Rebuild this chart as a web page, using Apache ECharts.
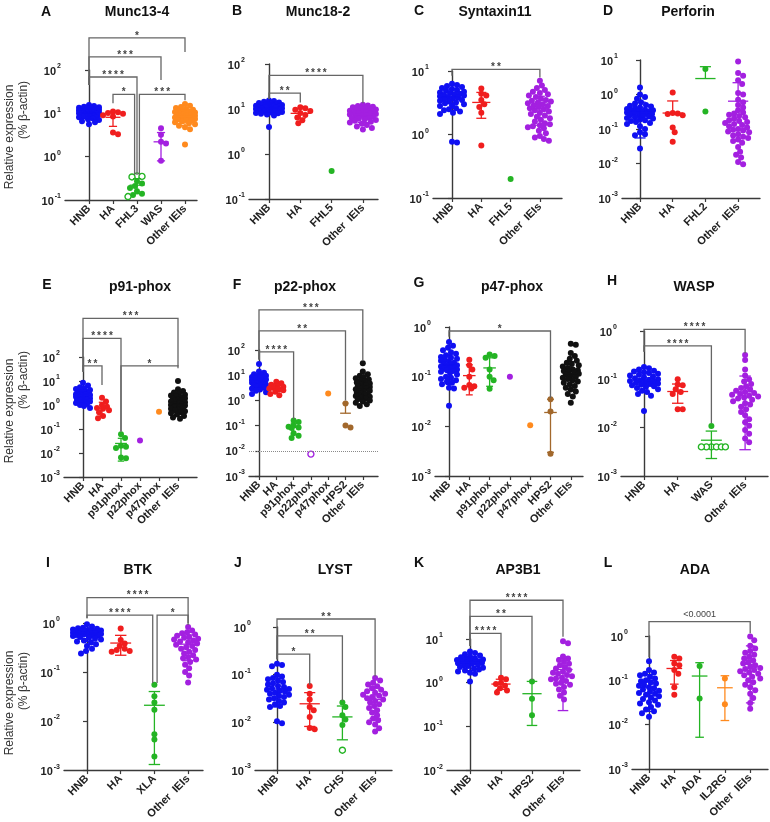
<!DOCTYPE html>
<html><head><meta charset="utf-8">
<script src="https://cdn.jsdelivr.net/npm/echarts@6/dist/echarts.min.js"></script>
<style>html,body{margin:0;padding:0;background:#fff}#c{width:770px;height:822px}</style>
</head><body><div id="c"></div><script>
// ---------------- DATA ----------------
const A_cats = ['HNB','HA','FHL3','WAS','Other IEIs'];
const A_HNB = [15.5,14.8,14.2,13.9,13.5,13.1,12.8,12.6,12.3,12.1,11.9,11.7,11.5,11.3,11.1,10.9,10.8,10.6,10.4,10.3,10.1,10.0,9.8,9.7,9.5,9.4,9.2,9.0,8.9,8.7,8.5,8.3,8.1,7.9,7.6,7.3,7.0,6.6,6.2,5.6];
const A_HA = [11,10.6,10.2,9.8,9.0,8.4,3.6,3.3];
const A_FHL3 = [0.27,0.24,0.21,0.19,0.16,0.14,0.13];
const A_FHL3_open = [0.36,0.35,0.34,0.12];
const A_WAS = [4.5,3.2,2.2,2.0,0.8];
const A_Other = [16.5,15,14,13.2,12.6,12.1,11.7,11.3,11,10.7,10.4,10.1,9.9,9.6,9.4,9.2,9.0,8.8,8.6,8.4,8.2,8.0,7.8,7.6,7.4,7.2,7.0,6.8,6.5,6.2,5.9,5.6,5.2,4.8,4.3,1.9];
const A_err = [[10.3,7.5,13.5],[8.1,5.0,11.0],[0.22,0.14,0.31],[2.2,0.8,3.6],[8.5,5.2,12]];
const A_br = [[0,4,550,45,260,'*'],[0,3,200,45,59,'***'],[0,2,69,45,0.38,'****'],[1,1.9,27.5,17,0.38,'*'],[2.1,4,27.5,0.38,20,'***']];

const B_cats = ['HNB','HA','FHL5','Other  IEIs'];
const B_HNB = [15.5,15,14.5,14,13.6,13.2,12.9,12.6,12.3,12.0,11.8,11.6,11.4,11.2,11.0,10.8,10.6,10.4,10.2,10.0,9.8,9.6,9.4,9.2,9.0,8.8,8.6,8.4,8.2,8.0,7.8,7.5,7.2,4.0];
const B_HA = [11,10.4,9.6,9.0,8.2,7.4,6.5,5.6,4.8];
const B_FHL5 = [0.42];
const B_Other = [12.5,12,11.6,11.2,10.9,10.6,10.3,10,9.7,9.5,9.2,9.0,8.7,8.5,8.3,8.1,7.9,7.7,7.5,7.3,7.1,6.9,6.7,6.5,6.3,6.1,5.9,5.7,5.5,5.2,5.0,4.7,4.4,4.1,3.8,3.5];
const B_err = [[10.5,8,13.5],[8.0,6.2,10.2],null,[7.5,5,10]];
const B_br = [[0,3,56,16.6,13.5,'****'],[0,1,22.5,16.6,14,'**']];

const C_cats = ['HNB','HA','FHL5','Other  IEIs'];
const C_HNB = [6.3,6.0,5.8,5.6,5.4,5.2,5.0,4.9,4.7,4.6,4.5,4.4,4.3,4.2,4.1,4.0,3.9,3.8,3.7,3.6,3.5,3.4,3.3,3.2,3.1,3.0,2.9,2.8,2.6,2.5,2.4,2.3,2.2,2.1,0.77,0.75];
const C_HA = [5.3,4.4,4.1,3.5,3.0,2.7,2.2,0.67];
const C_FHL5 = [0.2];
const C_Other = [7.0,5.9,5.4,5.0,4.7,4.5,4.3,4.1,3.9,3.7,3.5,3.4,3.3,3.2,3.1,3.0,2.9,2.8,2.7,2.6,2.5,2.4,2.3,2.2,2.1,2.0,1.9,1.8,1.7,1.6,1.5,1.45,1.4,1.35,1.3,1.25,1.15,1.05,0.95,0.9,0.85,0.8];
const C_err = [[3.9,2.6,5.2],[3.2,1.8,4.6],null,[2.6,1.4,4]];
const C_br = [[0,3,10.6,8.4,7.9,'**']];

const D_cats = ['HNB','HA','FHL2','Other  IEIs'];
const D_HNB = [1.6,1.0,0.85,0.75,0.6,0.55,0.5,0.47,0.45,0.42,0.4,0.38,0.36,0.35,0.34,0.33,0.32,0.31,0.3,0.29,0.28,0.27,0.26,0.25,0.24,0.23,0.22,0.21,0.2,0.19,0.18,0.17,0.16,0.15,0.14,0.12,0.1,0.08,0.07,0.066,0.027];
const D_HA = [1.15,0.29,0.28,0.27,0.25,0.11,0.08,0.043];
const D_FHL2 = [5.5,0.32];
const D_Other = [9,4.2,3.5,2.6,2.0,1.1,1.0,0.7,0.6,0.5,0.42,0.35,0.3,0.28,0.26,0.24,0.22,0.2,0.18,0.17,0.16,0.15,0.14,0.13,0.12,0.11,0.1,0.095,0.09,0.085,0.08,0.07,0.065,0.06,0.055,0.05,0.045,0.04,0.03,0.022,0.018,0.015,0.011,0.0095];
const D_err = [[0.3,0.055,0.6],[0.29,null,0.65],[2.9,null,6.4],[0.64,null,2.2]];
const D_br = [];

const E_cats = ['HNB','HA','p91phox','p22phox','p47phox','Other  IEIs'];
const E_HNB = [8.5,6.5,5.5,5.0,4.6,4.2,3.9,3.6,3.4,3.2,3.0,2.9,2.8,2.7,2.6,2.5,2.4,2.3,2.2,2.1,2.0,1.9,1.8,1.7,1.6,1.5,1.4,1.3,1.2,1.1,1.0,0.9,0.75];
const E_HA = [2.0,1.4,1.0,0.85,0.75,0.7,0.6,0.5,0.35,0.28];
const E_p91 = [0.06,0.042,0.02,0.018,0.016,0.0065,0.006];
const E_p22 = [0.033];
const E_p47 = [0.52];
const E_Other = [10,4.5,3.8,3.3,3.0,2.7,2.5,2.3,2.1,1.9,1.8,1.7,1.6,1.5,1.4,1.3,1.2,1.1,1.05,1.0,0.95,0.9,0.85,0.8,0.75,0.7,0.65,0.6,0.55,0.5,0.45,0.4,0.35,0.3,0.27];
const E_err = [[2.5,1.2,4],[0.75,0.35,1.3],[0.025,0.0046,0.041],null,null,[1.1,0.4,1.8]];
const E_br = [[0,5,4100,24.5,40,'***'],[0,2,600,24.5,0.078,'****'],[0,1,43,24.5,6.8,'**'],[2,5,43,0.078,34,'*']];

const F_cats = ['HNB','HA','p91phox','p22phox','p47phox','HPS2','Other  IEIs'];
const F_HNB = [28,14,12.5,11,10,9.5,9,8.5,8,7.6,7.2,6.8,6.5,6.2,6.0,5.8,5.5,5.2,5.0,4.8,4.5,4.2,4.0,3.8,3.5,3.2,3.0,2.7,2.4,2.1,1.8];
const F_HA = [5.5,4.8,4.2,3.8,3.5,3.2,3.0,2.8,2.5,2.2,1.8,1.6];
const F_p91 = [0.16,0.14,0.1,0.09,0.085,0.08,0.05,0.04,0.032];
const F_p22_open = [0.0074];
const F_p47 = [1.9];
const F_HPS2 = [0.75,0.1,0.085];
const F_Other = [30,14,11,9.5,8.5,7.5,6.8,6.2,5.6,5.1,4.7,4.3,4.0,3.7,3.4,3.2,3.0,2.8,2.6,2.4,2.2,2.0,1.9,1.8,1.7,1.6,1.5,1.4,1.3,1.2,1.1,1.0,0.9,0.8,0.7,0.6];
const F_err = [[6.5,3,11],[3.2,2.2,4.3],[0.085,0.045,0.125],null,null,[0.31,null,0.78],[3.2,1.0,6]];
const F_br = [[0,6,3900,42,38,'***'],[0,5,570,42,0.98,'**'],[0,2,85,42,0.18,'****']];
const F_ref = 0.0074;

const G_cats = ['HNB','HA','p91phox','p22phox','p47phox','HPS2','Other  IEIs'];
const G_HNB = [0.5,0.42,0.38,0.34,0.31,0.29,0.27,0.25,0.24,0.23,0.22,0.21,0.2,0.19,0.18,0.175,0.17,0.165,0.16,0.155,0.15,0.145,0.14,0.135,0.13,0.125,0.12,0.11,0.1,0.095,0.09,0.085,0.08,0.075,0.07,0.06,0.058,0.026];
const G_HA = [0.22,0.17,0.14,0.1,0.068,0.064,0.06,0.058];
const G_p91 = [0.28,0.26,0.24,0.14,0.1,0.085,0.057];
const G_p22 = [0.1];
const G_p47 = [0.0105];
const G_HPS2 = [0.035,0.02,0.0028];
const G_Other = [0.46,0.44,0.3,0.26,0.23,0.21,0.19,0.18,0.17,0.16,0.15,0.14,0.135,0.13,0.125,0.12,0.115,0.11,0.105,0.1,0.095,0.09,0.085,0.08,0.075,0.07,0.065,0.06,0.055,0.05,0.045,0.04,0.03];
const G_err = [[0.17,0.07,0.28],[0.105,0.043,0.174],[0.15,0.064,0.24],null,null,[0.019,0.003,0.035],[0.115,0.055,0.2]];
const G_br = [[0,5,0.83,0.64,0.037,'*']];

const H_cats = ['HNB','HA','WAS','Other  IEIs'];
const H_HNB = [0.18,0.17,0.16,0.15,0.145,0.14,0.135,0.13,0.125,0.12,0.115,0.11,0.105,0.1,0.098,0.095,0.092,0.09,0.087,0.085,0.082,0.08,0.077,0.075,0.072,0.07,0.066,0.062,0.058,0.055,0.05,0.046,0.022];
const H_HA = [0.1,0.078,0.075,0.062,0.055,0.05,0.024,0.024];
const H_WAS = [0.0108];
const H_WAS_open = [0.004,0.004,0.004,0.004,0.004,0.004];
const H_Other = [0.32,0.25,0.16,0.12,0.1,0.09,0.08,0.072,0.066,0.062,0.058,0.055,0.052,0.05,0.048,0.046,0.044,0.042,0.04,0.038,0.035,0.032,0.03,0.027,0.024,0.021,0.018,0.015,0.013,0.011,0.009,0.0075,0.006,0.005];
const H_err = [[0.095,0.055,0.14],[0.056,0.032,0.08],[0.0055,0.0023,0.0085],[0.055,0.0035,0.117]];
const H_br = [[0,3,1.08,0.37,0.345,'****'],[0,2,0.49,0.37,0.0123,'****']];
const H_ref = 0.004;

const I_cats = ['HNB','HA','XLA','Other  IEIs'];
const I_HNB = [0.94,0.85,0.8,0.78,0.76,0.74,0.72,0.7,0.69,0.68,0.67,0.66,0.65,0.64,0.63,0.62,0.61,0.6,0.59,0.58,0.57,0.56,0.55,0.54,0.52,0.5,0.48,0.46,0.44,0.42,0.4,0.37,0.34,0.3,0.27,0.24];
const I_HA = [0.77,0.45,0.38,0.34,0.3,0.28,0.27,0.26];
const I_XLA = [0.055,0.032,0.024,0.017,0.0054,0.0042,0.0019];
const I_Other = [0.83,0.7,0.65,0.62,0.58,0.55,0.52,0.5,0.48,0.46,0.44,0.42,0.4,0.38,0.36,0.34,0.32,0.3,0.28,0.26,0.24,0.22,0.2,0.19,0.18,0.16,0.14,0.12,0.1,0.085,0.061];
const I_err = [[0.6,0.42,0.78],[0.39,0.22,0.56],[0.021,0.0013,0.04],[0.37,0.17,0.57]];
const I_br = [[0,3,3.3,1.25,1.0,'****'],[0,1.95,1.45,1.25,0.06,'****'],[2.08,3,1.45,0.06,0.91,'*']];

const J_cats = ['HNB','HA','CHS','Other  IEIs'];
const J_HNB = [0.17,0.16,0.15,0.1,0.092,0.085,0.08,0.075,0.07,0.066,0.062,0.058,0.055,0.052,0.05,0.048,0.046,0.044,0.042,0.04,0.038,0.036,0.034,0.032,0.03,0.028,0.026,0.024,0.022,0.021,0.0105,0.0096];
const J_HA = [0.058,0.04,0.03,0.021,0.018,0.013,0.0076,0.0072];
const J_CHS = [0.026,0.021,0.014,0.0115,0.0088];
const J_CHS_open = [0.0026];
const J_Other = [0.085,0.075,0.068,0.062,0.057,0.052,0.048,0.045,0.042,0.04,0.038,0.036,0.034,0.032,0.03,0.028,0.026,0.024,0.022,0.02,0.018,0.016,0.014,0.012,0.011,0.01,0.009,0.0075,0.0064];
const J_err = [[0.05,0.021,0.09],[0.0245,0.0082,0.042],[0.013,0.0043,0.022],[0.03,0.012,0.055]];
const J_br = [[0,3,1.47,0.21,0.091,'**'],[0,2,0.65,0.21,0.0285,'**'],[0,1,0.27,0.21,0.061,'*']];

const K_cats = ['HNB','HA','HPS2','Other  IEIs'];
const K_HNB = [5.2,4.8,4.5,4.2,4.0,3.8,3.6,3.5,3.4,3.3,3.2,3.1,3.0,2.95,2.9,2.85,2.8,2.7,2.6,2.5,2.4,2.3,2.2,2.1,2.0,1.9,1.8,1.7,1.6,1.07];
const K_HA = [1.3,1.2,1.0,0.93,0.85,0.75,0.66,0.6];
const K_HPS2 = [1.07,0.43,0.18];
const K_Other = [8.9,8.0,4.0,3.6,3.3,3.0,2.7,2.5,2.3,2.1,1.95,1.8,1.7,1.6,1.5,1.4,1.3,1.25,1.2,1.1,1.0,0.95,0.9,0.8,0.7,0.6,0.5,0.41];
const K_err = [[2.9,1.9,3.9],[0.93,0.7,1.2],[0.56,0.105,1.07],[2.0,0.23,3.7]];
const K_br = [[0,3,77,6.9,11.3,'****'],[0,2,33,6.9,1.17,'**'],[0,1,13.5,6.9,1.5,'****']];

const L_cats = ['HNB','HA','ADA','IL2RG','Other  IEIs'];
const L_HNB = [0.27,0.17,0.15,0.14,0.13,0.12,0.11,0.1,0.095,0.09,0.085,0.08,0.075,0.07,0.066,0.062,0.058,0.055,0.052,0.05,0.047,0.044,0.041,0.038,0.035,0.032,0.03,0.028,0.025,0.022,0.02,0.018,0.015];
const L_HA = [0.34,0.31,0.24,0.22,0.17,0.14,0.07,0.047];
const L_ADA = [0.21,0.039];
const L_IL2RG = [0.11,0.029];
const L_Other = [0.97,0.8,0.6,0.52,0.46,0.42,0.38,0.34,0.31,0.28,0.26,0.24,0.22,0.2,0.19,0.18,0.17,0.16,0.15,0.14,0.13,0.12,0.11,0.1,0.09,0.08,0.07,0.06,0.05,0.04,0.031,0.023];
const L_err = [[0.07,0.02,0.135],[0.185,0.082,0.28],[0.125,0.0052,0.25],[0.068,0.0124,0.127],[0.23,0.031,0.6]];
const L_br = [[0,4,2.1,0.33,1.15,'<0.0001']];

// ---------------- STYLE / LAYOUT ----------------
const FONT = '"Liberation Sans", Arial, sans-serif';
const BLUE='#1010f2', RED='#f01e1e', GREEN='#24b424', PURPLE='#a320e0', ORANGE='#ff8a1e', BLACK='#111111', BROWN='#a2682c';

const panels = [
 {L:'A', title:'Munc13-4', cats:A_cats, groups:[A_HNB,A_HA,A_FHL3,A_WAS,A_Other], open:{2:A_FHL3_open}, colors:[BLUE,RED,GREEN,PURPLE,ORANGE], err:A_err, br:A_br, yMin:0.1, yMax:100,
  box:{x0:65,x1:197,top:70,bot:200,c0:89,step:24}, lp:[46,12], tp:[137,12]},
 {L:'B', title:'Munc18-2', cats:B_cats, groups:[B_HNB,B_HA,B_FHL5,B_Other], open:{}, colors:[BLUE,RED,GREEN,PURPLE], err:B_err, br:B_br, yMin:0.1, yMax:100,
  box:{x0:249,x1:378,top:64,bot:199,c0:269,step:31.3}, lp:[237,11], tp:[318,12]},
 {L:'C', title:'Syntaxin11', cats:C_cats, groups:[C_HNB,C_HA,C_FHL5,C_Other], open:{}, colors:[BLUE,RED,GREEN,PURPLE], err:C_err, br:C_br, yMin:0.1, yMax:10,
  box:{x0:433,x1:562,top:71,bot:198,c0:452,step:29.3}, lp:[419,11], tp:[495,12]},
 {L:'D', title:'Perforin', cats:D_cats, groups:[D_HNB,D_HA,D_FHL2,D_Other], open:{}, colors:[BLUE,RED,GREEN,PURPLE], err:D_err, br:D_br, yMin:0.001, yMax:10,
  box:{x0:622,x1:760,top:60,bot:198,c0:640,step:32.7}, lp:[608,11], tp:[688,12]},
 {L:'E', title:'p91-phox', cats:E_cats, groups:[E_HNB,E_HA,E_p91,E_p22,E_p47,E_Other], open:{}, colors:[BLUE,RED,GREEN,PURPLE,ORANGE,BLACK], err:E_err, br:E_br, yMin:0.001, yMax:100,
  box:{x0:64,x1:197,top:357,bot:477,c0:83,step:19}, lp:[47,285], tp:[140,287]},
 {L:'F', title:'p22-phox', cats:F_cats, groups:[F_HNB,F_HA,F_p91,[],F_p47,F_HPS2,F_Other], open:{3:F_p22_open}, colors:[BLUE,RED,GREEN,PURPLE,ORANGE,BROWN,BLACK], err:F_err, br:F_br, yMin:0.001, yMax:100, ref:F_ref,
  box:{x0:249,x1:378,top:350,bot:476,c0:259,step:17.3}, lp:[237,285], tp:[305,287]},
 {L:'G', title:'p47-phox', cats:G_cats, groups:[G_HNB,G_HA,G_p91,G_p22,G_p47,G_HPS2,G_Other], open:{}, colors:[BLUE,RED,GREEN,PURPLE,ORANGE,BROWN,BLACK], err:G_err, br:G_br, yMin:0.001, yMax:1,
  box:{x0:435,x1:583,top:327,bot:476,c0:449,step:20.3}, lp:[419,283], tp:[512,287]},
 {L:'H', title:'WASP', cats:H_cats, groups:[H_HNB,H_HA,H_WAS,H_Other], open:{2:H_WAS_open}, colors:[BLUE,RED,GREEN,PURPLE], err:H_err, br:H_br, yMin:0.001, yMax:1, ref:H_ref,
  box:{x0:621,x1:768,top:331,bot:476,c0:644,step:33.7}, lp:[612,281], tp:[694,287]},
 {L:'I', title:'BTK', cats:I_cats, groups:[I_HNB,I_HA,I_XLA,I_Other], open:{}, colors:[BLUE,RED,GREEN,PURPLE], err:I_err, br:I_br, yMin:0.001, yMax:1,
  box:{x0:64,x1:203,top:623,bot:771,c0:87,step:33.7}, lp:[48,563], tp:[138,570]},
 {L:'J', title:'LYST', cats:J_cats, groups:[J_HNB,J_HA,J_CHS,J_Other], open:{2:J_CHS_open}, colors:[BLUE,RED,GREEN,PURPLE], err:J_err, br:J_br, yMin:0.001, yMax:1,
  box:{x0:255,x1:392,top:627,bot:770,c0:277,step:32.7}, lp:[238,563], tp:[335,570]},
 {L:'K', title:'AP3B1', cats:K_cats, groups:[K_HNB,K_HA,K_HPS2,K_Other], open:{}, colors:[BLUE,RED,GREEN,PURPLE], err:K_err, br:K_br, yMin:0.01, yMax:10,
  box:{x0:447,x1:580,top:639,bot:771,c0:470,step:31}, lp:[419,563], tp:[518,570]},
 {L:'L', title:'ADA', cats:L_cats, groups:[L_HNB,L_HA,L_ADA,L_IL2RG,L_Other], open:{}, colors:[BLUE,RED,GREEN,ORANGE,PURPLE], err:L_err, br:L_br, yMin:0.001, yMax:1,
  box:{x0:632,x1:768,top:636,bot:769,c0:649,step:25.3}, lp:[608,563], tp:[695,570]}
];

// beeswarm layout (pixel offsets) computed from values
function swarmOffsets(vals, pxDec, maxOff){
  const D = 5;
  const order = vals.map((v,i)=>i).sort((a,b)=>vals[b]-vals[a]);
  const pts = []; const off = new Array(vals.length).fill(0);
  const lim = Math.max(0, Math.floor(maxOff));
  order.forEach(i=>{
    const y = -Math.log10(vals[i])*pxDec;
    let chosen = null, best = 0, bestD = -1;
    for (let k=0; k<=2*lim; k++){
      const o = k===0 ? 0 : (k%2 ? (k+1)/2 : -k/2);
      let md = Infinity;
      for (const q of pts){ const dx=q[0]-o, dy=q[1]-y; const d=Math.sqrt(dx*dx+dy*dy); if(d<md) md=d; }
      if (md >= D){ chosen = o; break; }
      if (md > bestD){ bestD = md; best = o; }
    }
    if (chosen===null) chosen = best;
    off[i] = chosen; pts.push([chosen, y]);
  });
  return off;
}

const option = {animation:false, backgroundColor:'#fff', grid:[], xAxis:[], yAxis:[], series:[], graphic:[]};
const AX = '#3a3a3a';

panels.forEach((p, pi)=>{
  const b = p.box;
  const idxs = p.cats.map((c,i)=>i);
  const xmin = -(b.c0-b.x0)/b.step, xmax = (b.x1-b.c0)/b.step;
  const e0 = Math.round(Math.log10(p.yMin)), e1 = Math.round(Math.log10(p.yMax));
  const decs = []; for (let e=e0; e<=e1; e++) decs.push(Math.pow(10,e));
  const pxDec = (b.bot-b.top)/(e1-e0);
  option.grid.push({left:b.x0, top:b.top, width:b.x1-b.x0, height:b.bot-b.top});
  option.xAxis.push({type:'value', gridIndex:pi, min:xmin, max:xmax, splitLine:{show:false},
    axisLine:{lineStyle:{color:AX, width:1.4}},
    axisTick:{customValues:idxs, length:4, lineStyle:{color:AX, width:1.2}},
    axisLabel:{customValues:idxs, rotate:45, margin:7, fontSize:11, fontWeight:'bold', fontFamily:FONT, color:'#222',
      formatter:(v)=>p.cats[Math.round(v)] || ''}});
  option.yAxis.push({type:'log', logBase:10, gridIndex:pi, min:p.yMin, max:p.yMax, splitLine:{show:false},
    minorTick:{show:false},
    axisLine:{show:true, lineStyle:{color:AX, width:1.4}},
    axisTick:{show:true, customValues:decs, length:4, lineStyle:{color:AX, width:1.2}},
    axisLabel:{customValues:decs, margin:4, formatter:(v)=>{ const e=Math.round(Math.log10(v)); return '{b|10}{s|'+(e<0?'-'+(-e):String(e))+'}'; },
      rich:{b:{fontSize:11, fontWeight:'bold', fontFamily:FONT, color:'#222', verticalAlign:'bottom', lineHeight:14},
            s:{fontSize:7, fontWeight:'bold', fontFamily:FONT, color:'#222', verticalAlign:'top', lineHeight:8, padding:[0,0,0,1]}}}});

  // scatter dots
  p.groups.forEach((vals, gi)=>{
    const openVals = p.open[gi] || [];
    const all = vals.concat(openVals);
    if (!all.length) return;
    const offs = swarmOffsets(all, pxDec, 0.42*b.step);
    const filled = vals.map((v,k)=>[gi + offs[k]/b.step, v]);
    const hol = openVals.map((v,k)=>[gi + offs[vals.length+k]/b.step, v]);
    if (filled.length) option.series.push({type:'scatter', xAxisIndex:pi, yAxisIndex:pi, data:filled, symbolSize:6, silent:true, z:2,
      itemStyle:{color:p.colors[gi], opacity:1}});
    if (hol.length) option.series.push({type:'scatter', xAxisIndex:pi, yAxisIndex:pi, data:hol, symbolSize:6, silent:true, z:2,
      itemStyle:{color:'#fff', borderColor:p.colors[gi], borderWidth:1.4, opacity:1}});
  });

  // reference dotted line
  if (p.ref){
    option.series.push({type:'scatter', xAxisIndex:pi, yAxisIndex:pi, data:[], silent:true,
      markLine:{silent:true, symbol:'none', label:{show:false}, lineStyle:{type:'dotted', color:'#8a8a8a', width:1}, data:[{yAxis:p.ref}]}});
  }

  // error bars (mean + SD)
  const errItems = [];
  p.err.forEach((e,gi)=>{ if (e) errItems.push({gi, m:e[0], lo:e[1], hi:e[2]}); });
  option.series.push({type:'custom', xAxisIndex:pi, yAxisIndex:pi, clip:false, silent:true, z:3,
    data: errItems.map(e=>[e.gi, e.m]),
    renderItem:(params, api)=>{
      const e = errItems[params.dataIndex];
      const col = p.colors[e.gi];
      const pm = api.coord([e.gi, e.m]);
      const unit = api.coord([e.gi+1, e.m])[0]-pm[0];
      const ph = api.coord([e.gi, e.hi]);
      const pl = e.lo ? api.coord([e.gi, e.lo]) : pm;
      const st = {stroke:col, lineWidth:1.3};
      const mw = 0.31*unit, cw = 0.17*unit;
      const ch = [
        {type:'line', shape:{x1:pm[0]-mw, y1:pm[1], x2:pm[0]+mw, y2:pm[1]}, style:st},
        {type:'line', shape:{x1:pm[0], y1:ph[1], x2:pm[0], y2:pl[1]}, style:st},
        {type:'line', shape:{x1:pm[0]-cw, y1:ph[1], x2:pm[0]+cw, y2:ph[1]}, style:st}
      ];
      if (e.lo) ch.push({type:'line', shape:{x1:pm[0]-cw, y1:pl[1], x2:pm[0]+cw, y2:pl[1]}, style:st});
      return {type:'group', children:ch};
    }});

  // significance brackets
  if (p.br.length){
    option.series.push({type:'custom', xAxisIndex:pi, yAxisIndex:pi, clip:false, silent:true, z:4,
      data: p.br.map(r=>[r[0], r[2]]),
      renderItem:(params, api)=>{
        const r = p.br[params.dataIndex];
        const a = api.coord([r[0], r[2]]), c = api.coord([r[1], r[2]]);
        const dl = api.coord([r[0], r[3]]), dr = api.coord([r[1], r[4]]);
        const isStar = r[5].indexOf('*')===0;
        const txt = isStar ? r[5].split('').join('\u2009') : r[5];
        return {type:'group', children:[
          {type:'polyline', shape:{points:[[a[0],dl[1]],[a[0],a[1]],[c[0],c[1]],[c[0],dr[1]]]}, style:{stroke:'#666', lineWidth:1.3, fill:null}},
          {type:'text', x:(a[0]+c[0])/2, y:a[1] + (isStar ? 3 : -3), style:{text:txt, fill:'#444',
            font: isStar ? 'bold 10px '+FONT : '9px '+FONT, textAlign:'center', textVerticalAlign:'bottom', align:'center', verticalAlign:'bottom'}}
        ]};
      }});
  }

  // letters and titles
  option.graphic.push({type:'text', x:p.lp[0], y:p.lp[1], style:{text:p.L, font:'bold 14px '+FONT, fill:'#111', textAlign:'center', textVerticalAlign:'middle', align:'center', verticalAlign:'middle'}});
  option.graphic.push({type:'text', x:p.tp[0], y:p.tp[1], style:{text:p.title, font:'bold 14px '+FONT, fill:'#111', textAlign:'center', textVerticalAlign:'middle', align:'center', verticalAlign:'middle'}});
});

// y-axis titles for the left column
[[137,110],[411,380],[703,681]].forEach(c=>{
  option.graphic.push({type:'text', x:10, y:c[0], rotation:Math.PI/2, style:{text:'Relative expression', font:'12px '+FONT, fill:'#333', textAlign:'center', textVerticalAlign:'middle', align:'center', verticalAlign:'middle'}});
  option.graphic.push({type:'text', x:24, y:c[1], rotation:Math.PI/2, style:{text:'(% \u03b2-actin)', font:'12px '+FONT, fill:'#333', textAlign:'center', textVerticalAlign:'middle', align:'center', verticalAlign:'middle'}});
});

const chart = echarts.init(document.getElementById('c'), null, {renderer:'canvas'});
chart.setOption(option);
</script></body></html>
